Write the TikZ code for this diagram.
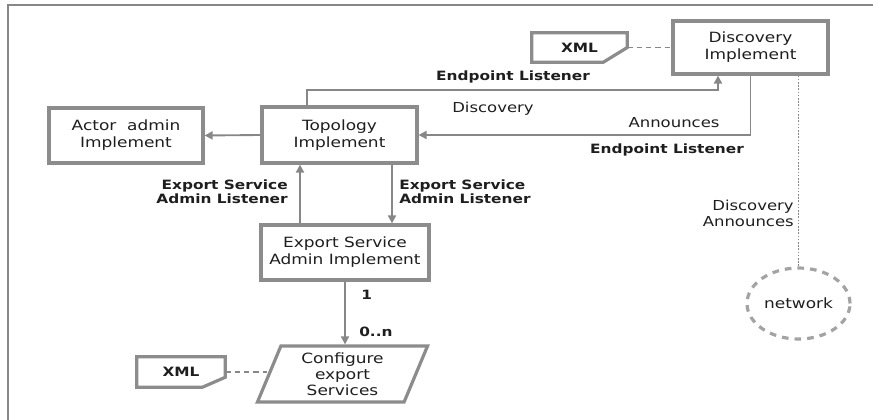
\documentclass[tikz,border=0pt]{standalone}
\usepackage{fontspec}
\setmainfont{DejaVu Sans}[FakeStretch=1.2]
\usetikzlibrary{arrows.meta,calc,shapes.geometric}
\definecolor{boxgray}{RGB}{140,140,140}
\definecolor{linegray}{RGB}{135,135,135}
\definecolor{txtcol}{RGB}{30,30,30}
\begin{document}
\begin{tikzpicture}[x=0.75pt,y=-0.75pt,
  box/.style={draw=boxgray,line width=2.4pt,inner sep=0pt,align=center,text=txtcol,
    font=\fontsize{10.6}{12.75}\selectfont},
  plainlbl/.style={inner sep=0pt,text=txtcol,font=\fontsize{10.3}{12}\selectfont},
  boldlbl/.style={inner sep=0pt,text=txtcol,font=\fontsize{9.6}{10.5}\selectfont\bfseries},
  arr/.style={draw=linegray,line width=1.4pt,-{Triangle[length=6pt,width=6pt]}},
  dashline/.style={draw=linegray,line width=1.1pt,dash pattern=on 4pt off 3pt},
  xmlline/.style={draw=boxgray,line width=2.4pt,line join=miter}]
  \useasboundingbox (0,0) rectangle (873,420);
  \draw[linegray,line width=1.2pt] (8,420) -- (8,5) -- (873,5);

  % boxes
  \node[box,minimum width=116.25pt,minimum height=39.75pt] (disc) at (750.5,47.5) {Discovery\\Implement};
  \node[box,minimum width=116.25pt,minimum height=42pt] (topo) at (339.5,135) {Topology\\Implement};
  \node[box,minimum width=115.5pt,minimum height=41.25pt] (actor) at (126,135.5) {Actor\ \ admin\\Implement};
  \node[box,minimum width=126pt,minimum height=41.25pt] (export) at (345,252.5) {Export Service\\Admin Implement};
  \node[box,trapezium,trapezium left angle=70,trapezium right angle=110,trapezium stretches=true,
    minimum width=128.25pt,minimum height=42pt,font=\fontsize{10.6}{12}\selectfont] (config) at (342.5,374) {Configure\\export\\Services};
  \node[box,draw=boxgray!80,dash pattern=on 5pt off 4.5pt,ellipse,minimum width=77.25pt,minimum height=53.25pt] (network) at (798.5,303.5) {network};

  % xml files
  \node[inner sep=0pt,minimum width=71.25pt,minimum height=21.75pt,font=\fontsize{9.6}{10.5}\selectfont\bfseries,text=txtcol] (xmlA) at (579.5,47.5) {XML};
  \draw[xmlline] (xmlA.north west) -- (xmlA.north east) -- (xmlA.east) -- ($(xmlA.south east)+(-24,0)$) -- (xmlA.south west) -- cycle;
  \node[inner sep=0pt,minimum width=66pt,minimum height=22.5pt,font=\fontsize{9.6}{10.5}\selectfont\bfseries,text=txtcol] (xmlB) at (181,372) {XML};
  \draw[xmlline] (xmlB.north west) -- (xmlB.north east) -- ($(xmlB.south east)+(0,-10)$) -- ($(xmlB.south east)+(-23,0)$) -- (xmlB.south west) -- cycle;

  % connectors
  \draw[arr] (topo.west) -- (actor.east);
  \draw[arr] ($(topo.north)+(-32.5,0)$) -- ++(0,-15) -| ($(disc.south)+(-32.5,0)$);
  \draw[arr] (disc.south) |- (topo.east);
  \coordinate (upA) at ($(export.north)+(-45,0)$);
  \coordinate (downA) at ($(topo.south)+(52.5,0)$);
  \draw[arr] (upA) -- (upA |- topo.south);
  \draw[arr] (downA) -- (downA |- export.north);
  \draw[arr] (export.south) -- (export.south |- config.north);
  \draw[dashline] (xmlA.east) -- (disc.west);
  \draw[dashline] (xmlB.east) -- (xmlB.east -| config.west);
  \draw[linegray,line width=0.7pt,dash pattern=on 1.2pt off 1.2pt] (network.north |- disc.south) -- (network.north);

  % labels
  \node[boldlbl] (eplA) at (513,77) {Endpoint Listener};
  \node[plainlbl] (discA) at (493,109) {Discovery};
  \node[plainlbl] (annA) at (674,123) {Announces};
  \node[boldlbl] (eplB) at (667,150) {Endpoint Listener};
  \node[boldlbl,anchor=east,align=right] (esalA) at (288,192) {Export Service\\Admin Listener};
  \node[boldlbl,anchor=west,align=left] (esalB) at (399,192) {Export Service\\Admin Listener};
  \node[boldlbl,anchor=west] (one) at (361,295) {1};
  \node[boldlbl,anchor=west] (many) at (359,332) {0..n};
  \node[plainlbl,anchor=east,align=right] (dann) at (794,213) {Discovery\\Announces};
\end{tikzpicture}
\end{document}
